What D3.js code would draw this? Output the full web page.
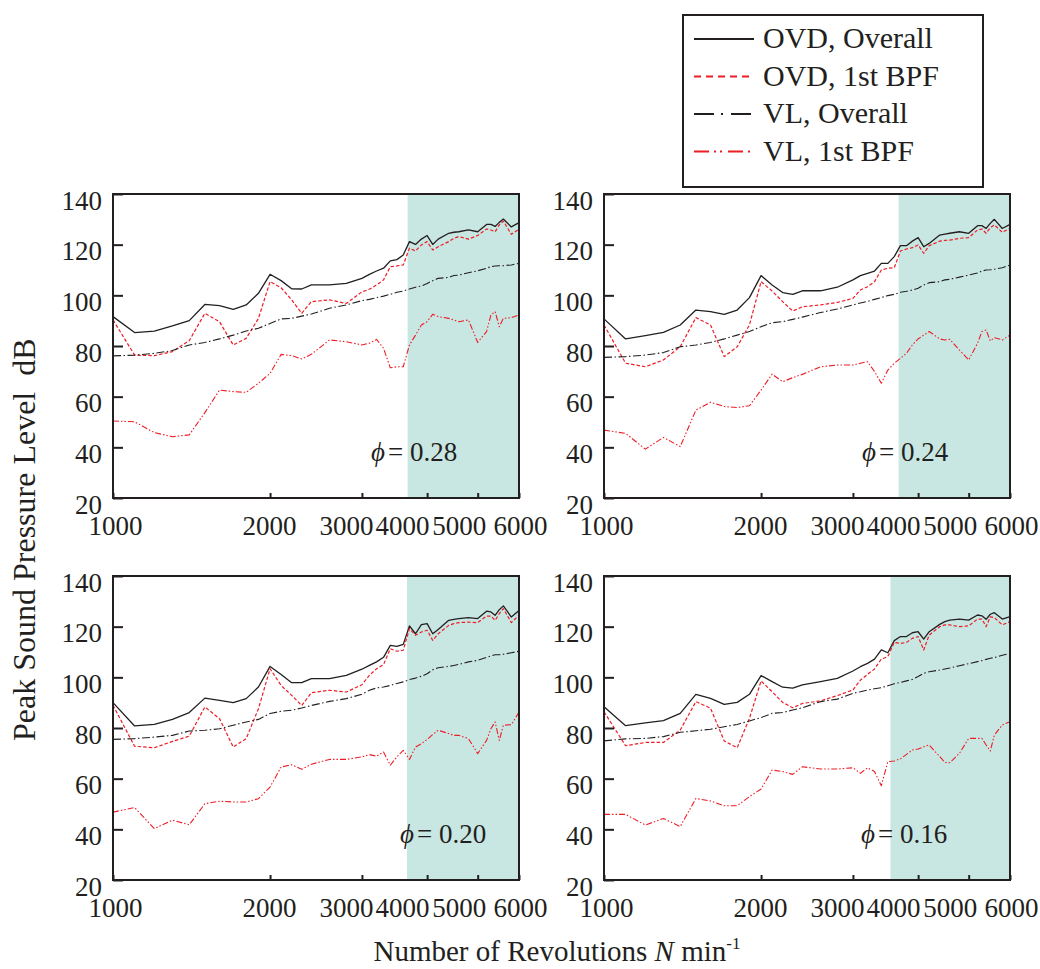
<!DOCTYPE html>
<html>
<head>
<meta charset="utf-8">
<script src="https://cdn.jsdelivr.net/npm/d3@7/dist/d3.min.js"></script>
<style>
  html, body { margin: 0; padding: 0; background: #fff; }
  svg { display: block; }
  text { font-family: "Liberation Serif", "Times New Roman", serif; fill: #231f20; }
</style>
</head>
<body>
<svg id="chart" width="1040" height="969"></svg>
<script>
// Rotational speeds (min^-1) at which the peak levels were sampled
const rpm = [1000,1100,1200,1300,1400,1500,1600,1700,1800,1900,2000,2100,2200,2300,2400,2600,2800,3000,3100,3200,3300,3400,3500,3600,3700,3800,3900,4000,4100,4200,4400,4500,4600,4800,5000,5200,5300,5400,5500,5600,5800,6000];

// Flow coefficient of each panel and the speed where the shaded band begins
const phiValues = ["0.28", "0.24", "0.20", "0.16"];
const shadeStart = [3670, 3670, 3660, 3540];

const seriesNames = ["OVD, Overall", "OVD, 1st BPF", "VL, Overall", "VL, 1st BPF"];
const xTicks = [1000, 2000, 3000, 4000, 5000, 6000];
const yTicks = [20, 40, 60, 80, 100, 120, 140];

// Peak sound pressure level (dB), one row per panel (phi = 0.28, 0.24, 0.20, 0.16)
const ovdOverall = [
  [91.6,85.3,85.9,87.9,90.0,96.4,95.9,94.5,96.2,100.8,108.3,105.8,102.6,102.5,104.1,104.1,104.7,106.7,108.3,109.6,110.7,113.6,114.1,115.9,121.2,120.1,122.2,123.6,120.1,122.2,124.5,124.9,125.1,125.8,125.1,128.0,128.0,127.2,128.8,130.1,127.0,128.7],
  [90.7,82.8,84.1,85.4,88.3,94.2,93.6,92.5,94.2,99.1,107.8,104.1,101.1,100.4,101.8,101.8,103.2,106.1,107.8,108.7,109.6,112.6,112.6,115.3,119.6,119.6,121.4,122.8,119.2,120.5,123.8,124.2,124.5,125.1,124.5,127.5,127.5,126.4,128.4,130.0,126.4,128.0],
  [90.0,80.8,81.4,83.4,86.1,91.8,90.9,90.0,91.6,96.2,104.3,101.1,97.9,97.9,99.5,99.5,100.8,103.2,104.7,106.1,107.9,112.6,112.2,113.0,120.3,117.2,120.8,121.2,117.2,118.9,122.5,122.9,123.2,123.6,123.2,126.1,125.8,124.5,126.7,128.2,123.8,126.4],
  [88.4,80.9,82.0,82.9,85.8,93.3,91.7,89.3,90.1,93.3,100.7,98.3,96.1,95.7,97.0,98.3,99.6,102.5,104.2,105.5,107.2,110.8,109.7,114.5,116.1,116.1,117.6,118.0,115.1,118.0,120.9,122.0,122.6,123.0,122.6,124.6,124.3,122.9,124.9,125.5,123.0,124.0]
];
const ovdBpf = [
  [90.3,76.4,76.2,77.8,82.1,92.9,89.6,80.4,83.0,90.9,105.4,103.0,98.2,92.9,97.5,98.2,96.8,101.4,102.4,104.1,106.1,111.3,111.6,112.0,118.6,117.5,119.9,121.2,117.9,119.2,121.2,122.5,123.2,122.2,123.6,126.2,125.8,125.1,127.8,129.3,124.1,126.1],
  [88.3,73.2,71.8,74.5,79.7,91.2,88.3,75.8,79.7,88.3,105.4,101.7,97.5,93.8,95.5,96.2,97.2,98.8,102.1,103.4,105.4,110.0,110.7,110.9,117.5,118.3,118.8,119.9,116.6,119.6,121.4,121.7,121.8,122.5,122.8,125.8,126.2,124.5,126.7,127.8,124.9,126.4],
  [89.0,72.8,72.2,74.7,76.8,88.3,83.7,72.5,75.8,87.6,103.4,96.8,92.9,88.9,93.9,94.9,94.2,97.1,100.8,103.4,105.0,111.3,110.3,110.7,119.2,116.6,117.9,118.6,114.6,117.2,120.5,121.2,121.6,121.8,121.6,124.2,124.2,122.5,125.1,127.1,121.6,124.5],
  [86.4,73.0,74.3,74.3,79.2,90.4,87.8,74.9,72.2,83.8,98.6,94.3,90.1,88.0,89.7,90.7,92.8,95.0,98.9,101.2,103.3,107.2,108.2,113.8,113.4,113.8,115.4,116.1,110.8,116.7,120.0,120.7,120.7,120.0,120.3,123.0,123.0,120.0,123.9,123.6,120.7,122.0]
];
const vlOverall = [
  [76.1,76.4,77.1,78.2,80.4,81.4,82.8,84.3,85.9,87.0,88.9,90.7,90.9,91.8,92.6,94.9,96.2,97.9,98.4,99.1,99.7,100.4,101.2,101.7,102.5,103.2,103.7,104.7,105.8,106.7,107.1,107.8,108.0,108.9,109.7,110.7,111.3,111.6,111.7,111.7,112.0,112.6],
  [75.5,75.8,76.4,77.4,79.7,80.4,81.4,82.8,84.3,85.7,87.6,89.2,89.6,90.5,91.4,93.2,94.6,96.2,97.0,97.6,98.4,99.1,99.9,100.4,101.2,101.6,102.1,102.8,104.1,105.0,105.4,106.1,106.3,107.2,108.0,108.8,109.6,110.0,110.1,110.3,110.9,112.0],
  [75.5,75.8,76.4,77.1,78.8,79.1,79.7,81.1,82.4,83.4,85.7,86.6,87.0,87.9,88.9,90.5,91.6,93.3,94.9,95.8,96.2,96.8,97.6,98.2,99.1,99.7,100.4,101.4,103.0,103.8,104.3,104.7,105.1,106.1,106.7,107.9,108.4,108.9,108.9,109.1,109.7,110.3],
  [74.9,75.7,75.9,76.6,78.3,78.9,79.5,80.5,81.4,82.8,84.1,85.8,86.1,87.1,88.0,90.4,91.4,93.7,94.3,95.0,95.5,95.9,96.7,97.5,98.0,98.6,99.2,100.3,101.6,102.2,102.9,103.3,103.7,104.6,105.4,106.2,106.6,107.1,107.5,107.8,108.7,109.5]
];
const vlBpf = [
  [50.4,50.1,45.8,44.2,44.9,53.7,62.6,62.0,61.7,65.3,69.2,76.7,76.2,74.9,76.7,82.4,81.7,80.4,81.1,82.6,79.1,71.4,71.8,71.8,80.4,84.3,88.3,89.6,92.5,91.6,90.9,90.3,89.6,90.3,81.4,85.7,92.2,93.6,87.6,90.9,91.2,92.2],
  [46.8,45.5,39.3,43.9,40.3,54.7,57.8,56.1,55.7,56.4,62.6,68.9,65.9,67.5,68.8,71.8,72.5,72.5,73.2,73.8,69.9,65.3,70.5,73.2,75.1,77.1,80.4,82.8,84.3,85.7,82.8,82.4,82.6,78.4,74.5,81.1,85.7,86.3,82.0,83.3,82.4,84.3],
  [46.8,48.6,40.3,43.6,41.8,50.1,51.1,50.8,50.8,52.1,56.7,64.6,65.5,63.7,65.7,67.6,67.6,68.6,69.5,68.9,70.5,65.3,68.6,71.2,67.6,72.5,73.8,75.5,77.4,79.1,77.8,77.1,77.1,75.8,69.9,75.1,79.7,82.4,75.1,81.1,81.3,86.3],
  [45.9,45.9,41.7,44.3,41.1,52.2,51.2,49.3,49.3,52.9,55.9,63.4,62.8,61.7,64.7,63.8,63.8,64.3,62.1,64.3,62.8,57.2,66.7,67.0,67.8,69.6,71.3,71.7,72.6,73.3,68.7,66.4,66.3,70.0,75.9,75.9,75.9,73.3,70.9,77.2,81.2,82.5]
];

// ---- layout and styles ----
const INK = "#231f20";
const RED = "#ee1c25";
const SHADE = "#c9e7e2";
const panelLeft = [113, 604];
const panelTop = [194, 576];
const pw = 406, ph = 304;
const tickFont = 27;
// horizontal nudges that keep the crowded log-axis labels from colliding
const xLabelNudge = {1000: 2, 2000: -1, 3000: -16, 4000: -25, 5000: -19, 6000: 1};
const phiLabelX = [258, 258, 287, 257];

const styles = [
  {stroke: INK, width: 1.3, dash: null},
  {stroke: RED, width: 1.2, dash: "3.5,2"},
  {stroke: INK, width: 1.1, dash: "8,2.5,1.5,2.5"},
  {stroke: RED, width: 1.1, dash: "6,2,1.5,2,1.5,2"}
];
const legendDash = [null, "7,5", "20,7,2,8", "15,5,2,4,2,6"];
const seriesSets = [ovdOverall, ovdBpf, vlOverall, vlBpf];

const svg = d3.select("#chart");
svg.append("rect").attr("width", 1040).attr("height", 969).attr("fill", "#fff");

const x = d3.scaleLog().domain([1000, 6000]).range([0, pw]);
const y = d3.scaleLinear().domain([20, 140]).range([ph, 0]);
const line = d3.line().x(d => x(d[0])).y(d => y(d[1]));

phiValues.forEach((phi, i) => {
  const col = i % 2, row = Math.floor(i / 2);
  const g = svg.append("g")
    .attr("transform", `translate(${panelLeft[col]},${panelTop[row]})`);

  // shaded speed range
  g.append("rect")
    .attr("x", x(shadeStart[i]))
    .attr("y", 0)
    .attr("width", pw - x(shadeStart[i]))
    .attr("height", ph)
    .attr("fill", SHADE);

  // series
  seriesSets.forEach((set, s) => {
    const pts = rpm.map((n, k) => [n, set[i][k]]);
    g.append("path")
      .attr("d", line(pts))
      .attr("fill", "none")
      .attr("stroke", styles[s].stroke)
      .attr("stroke-width", styles[s].width)
      .attr("stroke-dasharray", styles[s].dash)
      .attr("stroke-linejoin", "round");
  });

  // y axis: inward ticks
  const ya = g.append("g").call(
    d3.axisLeft(y).tickValues(yTicks).tickSize(-10).tickSizeOuter(0).tickPadding(11)
  );
  ya.select(".domain").remove();
  ya.selectAll(".tick line").attr("stroke", INK).attr("stroke-width", 2);
  ya.selectAll(".tick text")
    .attr("font-size", tickFont)
    .attr("font-family", "Liberation Serif, serif")
    .attr("fill", INK)
    .attr("dy", "0.56em");

  // x axis: inward ticks, log scale
  const xa = g.append("g").attr("transform", `translate(0,${ph})`).call(
    d3.axisBottom(x).tickValues(xTicks).tickFormat(d3.format("d"))
      .tickSize(-5).tickSizeOuter(0).tickPadding(18)
  );
  xa.select(".domain").remove();
  xa.selectAll(".tick line").attr("stroke", INK).attr("stroke-width", 2);
  xa.selectAll(".tick text")
    .attr("font-size", tickFont)
    .attr("font-family", "Liberation Serif, serif")
    .attr("fill", INK)
    .attr("dx", d => xLabelNudge[d]);

  // frame
  g.append("rect")
    .attr("width", pw).attr("height", ph)
    .attr("fill", "none")
    .attr("stroke", INK)
    .attr("stroke-width", 2);

  // flow coefficient label
  const t = g.append("text")
    .attr("x", phiLabelX[i])
    .attr("y", ph - 37)
    .attr("font-size", 27);
  t.append("tspan").attr("font-style", "italic").text("\u03D5");
  t.append("tspan").attr("dx", 3).text("=\u00A0" + phi);
});

// axis titles
svg.append("text")
  .attr("transform", "translate(35,741) rotate(-90)")
  .attr("font-size", 32)
  .style("white-space", "pre")
  .text("Peak Sound Pressure Level  dB");

const xt = svg.append("text")
  .attr("x", 557)
  .attr("y", 961)
  .attr("text-anchor", "middle")
  .attr("font-size", 29);
xt.append("tspan").text("Number of Revolutions ");
xt.append("tspan").attr("font-style", "italic").text("N");
xt.append("tspan").text(" min");
xt.append("tspan").attr("font-size", 17).attr("dy", -12).text("-1");

// legend
const lg = svg.append("g");
lg.append("rect")
  .attr("x", 683).attr("y", 15)
  .attr("width", 300).attr("height", 172)
  .attr("fill", "#fff")
  .attr("stroke", INK)
  .attr("stroke-width", 2);
seriesNames.forEach((name, s) => {
  const base = 48 + s * 37.5;
  lg.append("line")
    .attr("x1", 694).attr("x2", 754)
    .attr("y1", base - 9).attr("y2", base - 9)
    .attr("stroke", styles[s].stroke)
    .attr("stroke-width", 2)
    .attr("stroke-dasharray", legendDash[s]);
  lg.append("text")
    .attr("x", 763).attr("y", base)
    .attr("font-size", 30)
    .text(name);
});
</script>
</body>
</html>
